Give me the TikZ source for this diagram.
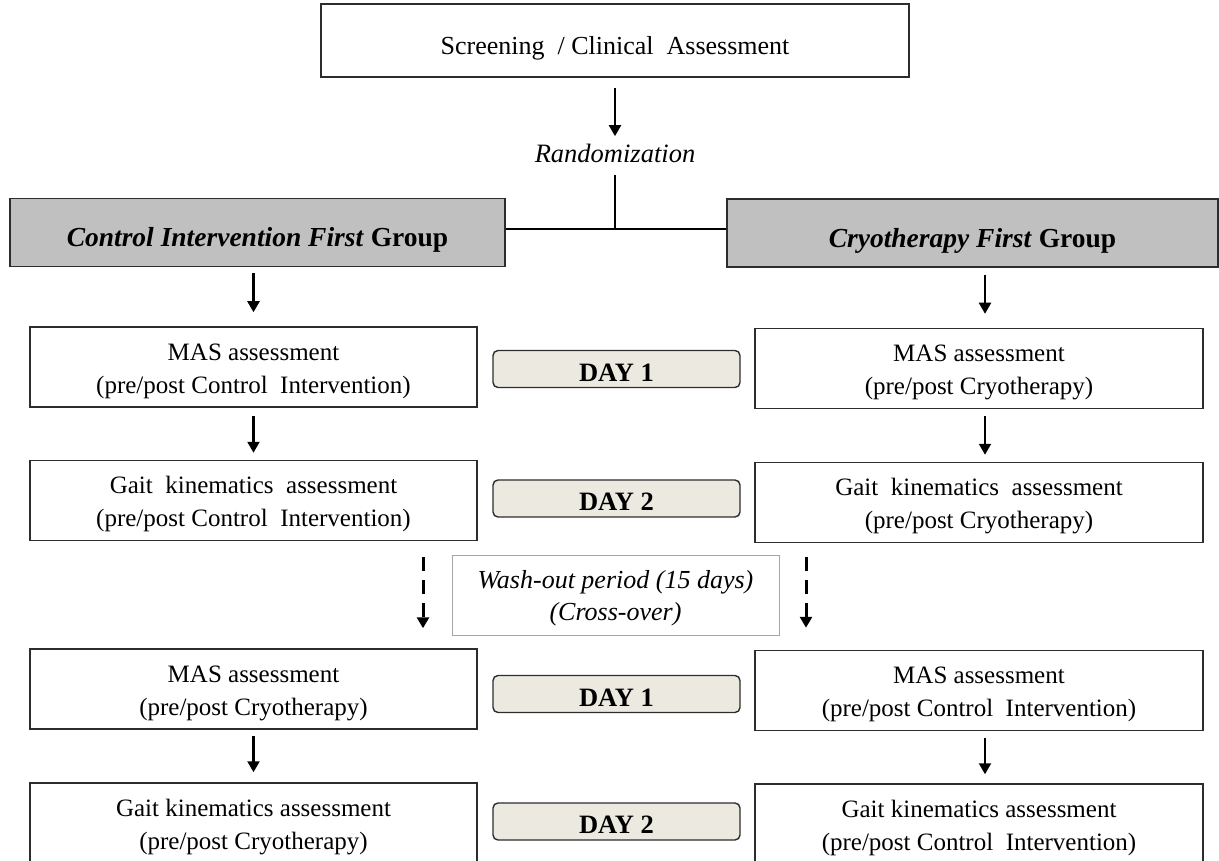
\documentclass[tikz,border=0pt]{standalone}
\usepackage{fontspec}
\setmainfont{Liberation Serif}
\usepackage{tikz}
\usetikzlibrary{arrows.meta,positioning}
\definecolor{groupgray}{RGB}{192,192,192}
\definecolor{dayfill}{RGB}{236,234,224}
\definecolor{edgegray}{RGB}{45,45,45}
\newcommand{\twolines}[2]{\rule{0pt}{25pt}#1\\#2}

\begin{document}
\begin{tikzpicture}[x=1pt,y=-1pt,
    box/.style={draw=edgegray, line width=1.5pt, minimum width=447pt, minimum height=80pt,
      align=center, inner sep=0pt, font=\fontsize{25}{33}\selectfont},
    groupbox/.style={draw=edgegray, line width=1.5pt, fill=groupgray, minimum height=68pt,
      inner sep=0pt, text height=29pt, text depth=0pt, font=\fontsize{27.5}{30}\selectfont\bfseries},
    daybox/.style={draw=edgegray, line width=1.4pt, fill=dayfill, rounded corners=5pt,
      minimum width=247pt, minimum height=37pt, inner sep=0pt, text height=24pt, text depth=0pt,
      font=\fontsize{26.5}{28}\selectfont\bfseries},
    washbox/.style={draw=gray!70, line width=0.8pt, minimum width=327pt, minimum height=80pt,
      align=center, inner sep=0pt, font=\fontsize{26}{32}\selectfont\itshape},
    arr/.style={line width=2.2pt, -{Triangle[length=11pt,width=12pt]}},
    dasharr/.style={line width=3pt, dash pattern=on 14pt off 9pt, -{Triangle[length=11pt,width=12pt]}}]
        \useasboundingbox (0,0) rectangle (1219,861);
        \node[draw=edgegray, line width=1.5pt, minimum width=588pt, minimum height=73pt, inner sep=0pt,
          text height=28pt, text depth=0pt, font=\fontsize{26}{30}\selectfont] (screen) at (615,40.5)
          {Screening~~/ Clinical~~Assessment};
        \node[font=\fontsize{26.5}{30}\selectfont\itshape] (rand) at (615,153) {Randomization};
        \node[groupbox, minimum width=495pt] (ctrlgrp) at (257.5,232.5) {\textit{Control Intervention First} Group};
        \node[groupbox, minimum width=491pt] (cryogrp) at (972.5,233) {\textit{Cryotherapy First} Group};
        \coordinate (split) at (615,229);
        \coordinate (randfoot) at (615,175);
        \draw[line width=1.1pt] (randfoot) -- (split);
        \draw[line width=1.1pt] (ctrlgrp.east |- split) -- (cryogrp.west |- split);
        \draw[arr] ([yshift=-10pt]screen.south) -- ([yshift=4pt]rand.north);
        % left column
        \node[box] (lmas1) at (253.5,367) {\twolines{MAS assessment}{(pre/post Control~~Intervention)}};
        \node[box] (lgait1) at (253.5,500.5) {\twolines{Gait~~kinematics~~assessment}{(pre/post Control~~Intervention)}};
        \node[box] (lmas2) at (253.5,689) {\twolines{MAS assessment}{(pre/post Cryotherapy)}};
        \node[box] (lgait2) at (253.5,823) {\twolines{Gait kinematics assessment}{(pre/post Cryotherapy)}};
        % right column
        \node[box, minimum width=448pt] (rmas1) at (979,368.5) {\twolines{MAS assessment}{(pre/post Cryotherapy)}};
        \node[box, minimum width=448pt] (rgait1) at (979,502.5) {\twolines{Gait~~kinematics~~assessment}{(pre/post Cryotherapy)}};
        \node[box, minimum width=448pt] (rmas2) at (979,690.5) {\twolines{MAS assessment}{(pre/post Control~~Intervention)}};
        \node[box, minimum width=448pt] (rgait2) at (979,824) {\twolines{Gait kinematics assessment}{(pre/post Control~~Intervention)}};
        % days
        \node[daybox] (day1a) at (616.5,369) {DAY 1};
        \node[daybox] (day2a) at (616.5,498.5) {DAY 2};
        \node[daybox] (day1b) at (616.5,694) {DAY 1};
        \node[daybox] (day2b) at (616.5,821.5) {DAY 2};
        \node[washbox] (wash) at (615.5,595) {\rule{0pt}{24pt}Wash-out period (15 days)\\(Cross-over)};
        % arrows
        \draw[arr] ([yshift=-6pt]lmas1.north |- ctrlgrp.south) -- ([yshift=14pt]lmas1.north);
        \draw[arr] ([yshift=-8pt]lmas1.south) -- ([yshift=7pt]lgait1.north);
        \draw[arr] ([yshift=-6pt]lmas2.south) -- ([yshift=10pt]lgait2.north);
        \draw[arr] ([xshift=12.5pt,yshift=-7pt]cryogrp.south) -- ([xshift=6pt,yshift=14pt]rmas1.north);
        \draw[arr] ([xshift=6pt,yshift=-7pt]rmas1.south) -- ([xshift=6pt,yshift=7pt]rgait1.north);
        \draw[arr] ([xshift=6pt,yshift=-7pt]rmas2.south) -- ([xshift=6pt,yshift=9pt]rgait2.north);
        \draw[dasharr] ([xshift=169.5pt,yshift=-16pt]lgait1.south) -- ([xshift=169.5pt,yshift=20pt]lmas2.north);
        \draw[dasharr] ([xshift=-173pt,yshift=-14pt]rgait1.south) -- ([xshift=-173pt,yshift=22pt]rmas2.north);
      \end{tikzpicture}
\end{document}
